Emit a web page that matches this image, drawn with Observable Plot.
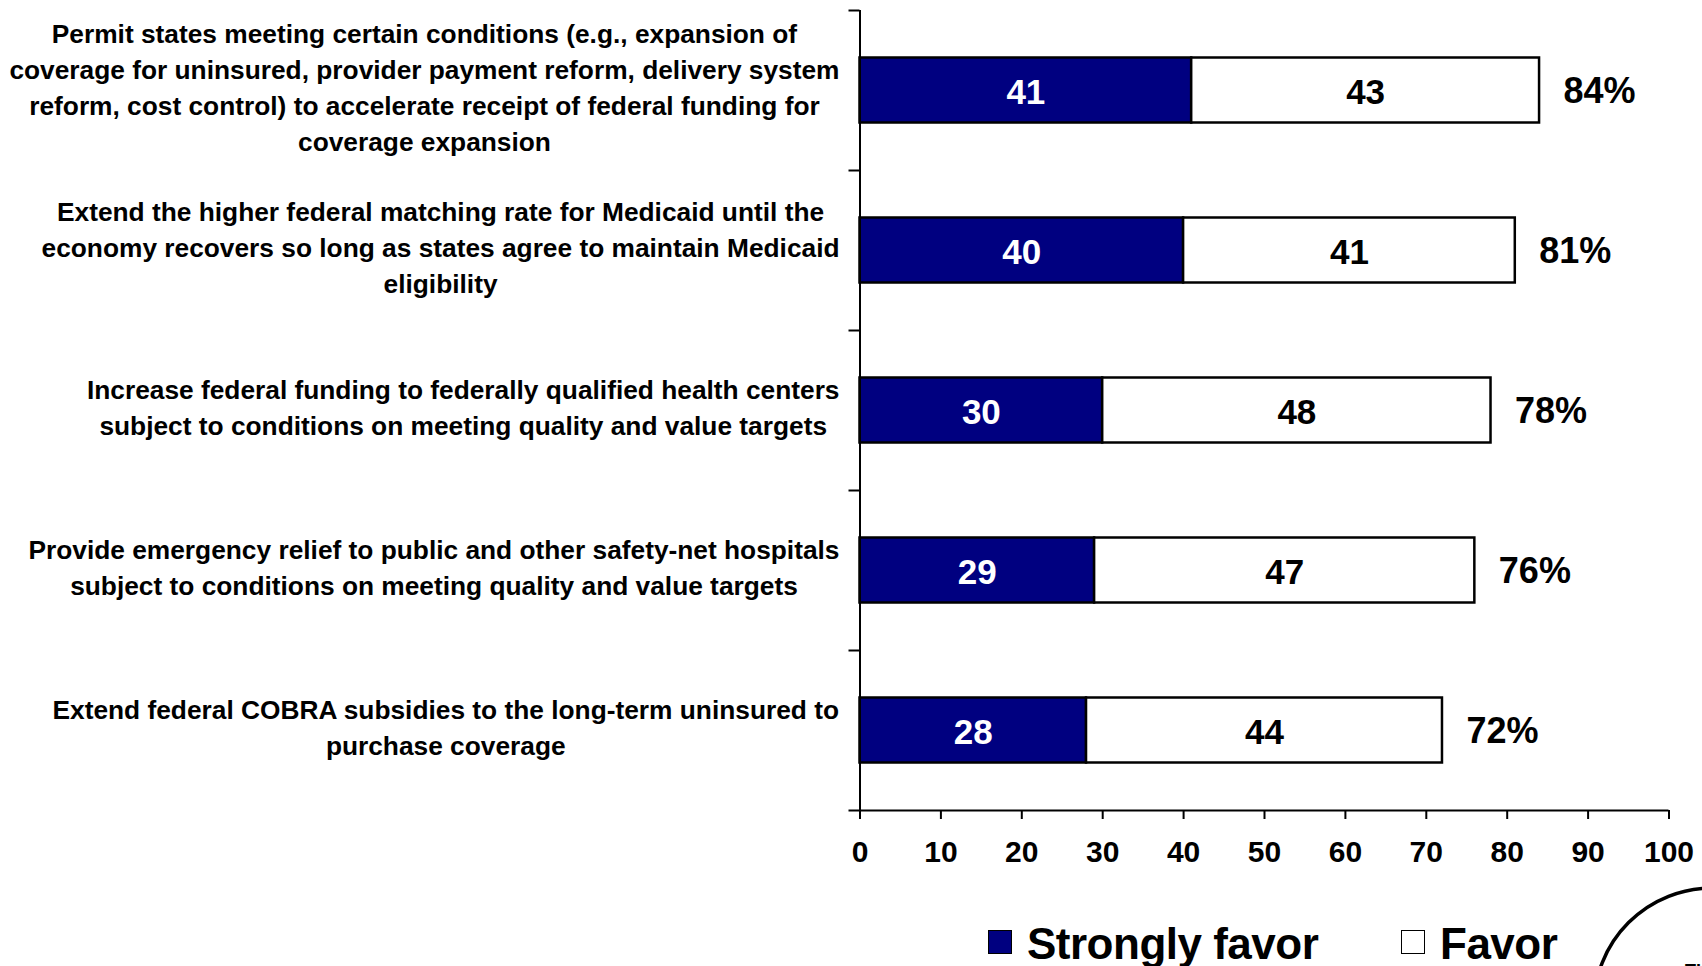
<!DOCTYPE html>
<html>
<head>
<meta charset="utf-8">
<script src="https://cdn.jsdelivr.net/npm/d3@7"></script>
<script src="https://cdn.jsdelivr.net/npm/@observablehq/plot@0.6"></script>
<style>
  html, body { margin: 0; padding: 0; background: #fff; overflow: hidden; width: 1702px; height: 966px; }
  body { position: relative; font-family: "Liberation Sans", Arial, sans-serif; }
  #chart { position: absolute; left: 0; top: 0; }
  .lg-box { position: absolute; width: 22px; height: 22px; border: 1.5px solid #000; }
  .lg-text { position: absolute; font-size: 44px; line-height: 44px; font-weight: bold; letter-spacing: -0.5px; color: #000; white-space: nowrap; }
</style>
</head>
<body>
<div id="chart"></div>
<div id="legend"></div>
<svg id="logo" width="1702" height="966" style="position:absolute;left:0;top:0;pointer-events:none">
  <circle cx="1712" cy="1006" r="118" fill="none" stroke="#000" stroke-width="3.5"></circle>
  <text x="1685" y="977" font-family="Liberation Sans, Arial, sans-serif" font-weight="bold" font-size="18">THE</text>
</svg>
<script>
// ---- Data ----
const questions = [
  "Permit states meeting certain conditions (e.g., expansion of\ncoverage for uninsured, provider payment reform, delivery system\nreform, cost control) to accelerate receipt of federal funding for\ncoverage expansion",
  "Extend the higher federal matching rate for Medicaid until the\neconomy recovers so long as states agree to maintain Medicaid\neligibility",
  "Increase federal funding to federally qualified health centers\nsubject to conditions on meeting quality and value targets",
  "Provide emergency relief to public and other safety-net hospitals\nsubject to conditions on meeting quality and value targets",
  "Extend federal COBRA subsidies to the long-term uninsured to\npurchase coverage"
];
const series = ["Strongly favor", "Favor"];
const seriesColors = ["#000080", "#ffffff"];
const seriesTextColors = ["#ffffff", "#000000"];
const stronglyFavor = [41, 40, 30, 29, 28];
const favor = [43, 41, 48, 47, 44];
const totals = [84, 81, 78, 76, 72];
const xTicks = [0, 10, 20, 30, 40, 50, 60, 70, 80, 90, 100];

// ---- Long table ----
const rows = [];
questions.forEach((q, i) => {
  rows.push({question: q, series: series[0], value: stronglyFavor[i]});
  rows.push({question: q, series: series[1], value: favor[i]});
});
const totalRows = questions.map((q, i) => ({question: q, total: totals[i]}));

// ---- Label widths for right-aligned block with centered lines ----
const FONT = "'Liberation Sans', Arial, sans-serif";
const LABEL_SIZE = 26.3;
const ctx = document.createElement("canvas").getContext("2d");
ctx.font = `bold ${LABEL_SIZE}px ${FONT}`;
const blockWidths = questions.map(q => d3.max(q.split("\n"), l => ctx.measureText(l).width));

const labelMarks = questions.map((q, i) =>
  Plot.text([q], {
    y: d => d,
    text: d => d,
    frameAnchor: "left",
    textAnchor: "middle",
    dx: -20.5 - blockWidths[i] / 2,
    dy: -5,
    lineHeight: 1.36,
    fontSize: LABEL_SIZE,
    fontWeight: "bold",
    fill: "#000"
  })
);

const chart = Plot.plot({
  width: 1702,
  height: 900,
  marginLeft: 859.5,
  marginRight: 33.5,
  marginTop: 10,
  marginBottom: 90,
  x: {domain: [0, 100]},
  y: {domain: questions, padding: 0, axis: null},
  color: {type: "identity"},
  style: {fontFamily: FONT, fontWeight: "bold", color: "#000", background: "#fff"},
  marks: [
    Plot.barX(rows, Plot.stackX({
      x: "value",
      y: "question",
      fill: d => seriesColors[series.indexOf(d.series)],
      stroke: "#000",
      strokeWidth: 2.5,
      insetTop: 47.5,
      insetBottom: 47.5
    })),
    Plot.text(rows, Plot.stackX({
      x: "value",
      y: "question",
      text: "value",
      fill: d => seriesTextColors[series.indexOf(d.series)],
      fontSize: 35,
      fontWeight: "bold",
      dy: 2
    })),
    Plot.text(totalRows, {
      x: "total",
      y: "question",
      text: d => d.total + "%",
      textAnchor: "start",
      dx: 24,
      dy: 1,
      fontSize: 36,
      fontWeight: "bold",
      fill: "#000"
    }),
    ...labelMarks,
    // vertical axis line
    Plot.ruleX([0], {stroke: "#000", strokeWidth: 2}),
    // y tick marks at band boundaries
    Plot.ruleY(questions, {y: d => d, x1: 0, x2: 0, insetLeft: -11, dy: -80, stroke: "#000", strokeWidth: 2}),
    // horizontal axis line (extends left like a tick)
    Plot.ruleY([questions[questions.length - 1]], {y: d => d, x1: 0, x2: 100, insetLeft: -11, dy: 80, stroke: "#000", strokeWidth: 2}),
    Plot.axisX({
      ticks: xTicks,
      tickSize: 9,
      tickPadding: 21,
      tickFormat: d => String(d),
      fontSize: 30,
      fontWeight: "bold",
      strokeWidth: 2,
      stroke: "#000",
      fill: "#000",
      label: null
    })
  ]
});
document.getElementById("chart").appendChild(chart);

// ---- Legend (below the chart) ----
const legend = document.getElementById("legend");
const boxLeft = [988, 1401];
const textLeft = [1027, 1440];
series.forEach((s, i) => {
  const box = document.createElement("div");
  box.className = "lg-box";
  box.style.left = boxLeft[i] + "px";
  box.style.top = "930px";
  box.style.background = seriesColors[i];
  legend.appendChild(box);
  const t = document.createElement("div");
  t.className = "lg-text";
  t.style.left = textLeft[i] + "px";
  t.style.top = "922px";
  t.textContent = s;
  legend.appendChild(t);
});
</script>
</body>
</html>
